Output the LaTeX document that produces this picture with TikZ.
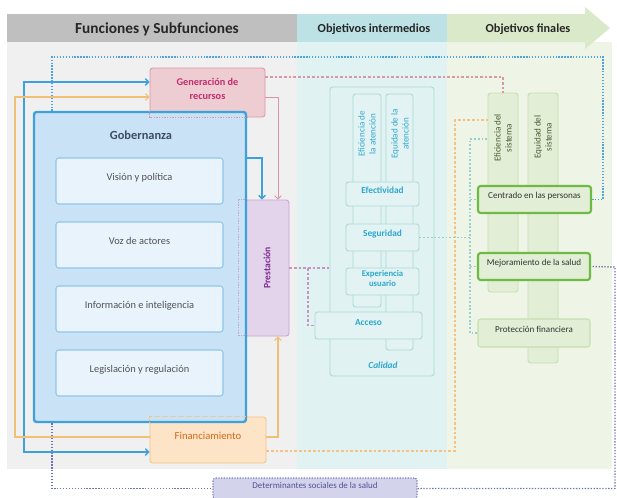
\documentclass[tikz,border=0pt]{standalone}
\usepackage{fontspec}
\setmainfont{Carlito}
\usetikzlibrary{fit,arrows.meta}
\definecolor{ghead}{HTML}{BFBFBF}
\definecolor{gbody}{HTML}{F0F0F0}
\definecolor{thead}{HTML}{BCE2E5}
\definecolor{tbody}{HTML}{E1F2F2}
\definecolor{vhead}{HTML}{DAE9C9}
\definecolor{vbody}{HTML}{EEF5E6}
\definecolor{govline}{HTML}{3DA2DC}
\definecolor{govfill}{HTML}{C9E2F5}
\definecolor{govtext}{HTML}{3F4A66}
\definecolor{subfill}{HTML}{E9F3FC}
\definecolor{subline}{HTML}{8FC6EC}
\definecolor{pinkfill}{HTML}{EDCCD2}
\definecolor{pinkline}{HTML}{D996A7}
\definecolor{pinktext}{HTML}{C42D6C}
\definecolor{orfill}{HTML}{FDE4C6}
\definecolor{orline}{HTML}{F5C283}
\definecolor{orlight}{HTML}{F2BF76}
\definecolor{ortext}{HTML}{D8681A}
\definecolor{purfill}{HTML}{E4D4EB}
\definecolor{purline}{HTML}{C7A4D1}
\definecolor{purtext}{HTML}{7B2A92}
\definecolor{tealline}{HTML}{A7DAD8}
\definecolor{tealtext}{HTML}{2EA7CF}
\definecolor{tealfill}{HTML}{E3F3F3}
\definecolor{grfill}{HTML}{E2EED6}
\definecolor{grline}{HTML}{C6DFAF}
\definecolor{grstrong}{HTML}{6DBA45}
\definecolor{grtext}{HTML}{4B5A33}
\definecolor{lavfill}{HTML}{D3D3EC}
\definecolor{lavline}{HTML}{7C80BE}
\definecolor{lavtext}{HTML}{4E5296}
\definecolor{bluedotc}{HTML}{4FA3DC}
\definecolor{botdotc}{HTML}{6B74AE}
\begin{document}
\begin{tikzpicture}[x=0.75pt,y=-0.75pt,
  >={Straight Barb[length=2.5pt,width=5pt]},
  bx/.style={rounded corners=2pt, inner sep=0pt, line width=0.6pt},
  hdr/.style={font={\fontsize{11.5pt}{13pt}\selectfont\bfseries}, text=black!85},
  hdrs/.style={font={\fontsize{9.2pt}{11pt}\selectfont\bfseries}, text=black!85},
  genbox/.style={bx, fill=pinkfill, draw=pinkline, text=pinktext, align=center,
     font={\fontsize{7.7pt}{10.3pt}\selectfont\bfseries}},
  finbox/.style={bx, fill=orfill, draw=orline, text=ortext,
     font={\fontsize{8pt}{9pt}\selectfont}},
  prebox/.style={bx, fill=purfill, draw=purline},
  gobbox/.style={rounded corners=2pt, inner sep=0pt, fill=govfill, draw=govline, line width=1.8pt},
  subbox/.style={bx, fill=subfill, draw=subline, line width=0.8pt, text=black!68,
     font={\fontsize{7.8pt}{9pt}\selectfont}},
  calbox/.style={bx, draw=tealline, line width=0.7pt},
  tcol/.style={bx, draw=tealline, fill=tealfill, line width=0.7pt},
  tbox/.style={bx, draw=tealline, fill=tealfill, line width=0.7pt, text=tealtext, align=center,
     font={\fontsize{7pt}{8.5pt}\selectfont\bfseries}},
  coltext/.style={rotate=90, align=center, font={\fontsize{6.8pt}{8.2pt}\selectfont}},
  gcol/.style={bx, draw=grline, fill=grfill, line width=0.7pt},
  gstrong/.style={bx, draw=grstrong, fill=grfill, line width=1.6pt, text=black!80,
     font={\fontsize{6.8pt}{8pt}\selectfont}},
  gweak/.style={bx, draw=grline, fill=grfill, line width=0.8pt, text=black!80,
     font={\fontsize{6.8pt}{8pt}\selectfont}},
  detbox/.style={bx, draw=lavline, fill=lavfill, line width=0.8pt, dash pattern=on 1pt off 1pt,
     text=lavtext, font={\fontsize{6.7pt}{8pt}\selectfont}},
  bluedot/.style={draw=bluedotc, line width=1pt, dash pattern=on 1pt off 1.2pt},
  botdot/.style={draw=botdotc, line width=1pt, dash pattern=on 1pt off 1.2pt},
  pinkdash/.style={draw=pinkline, line width=0.9pt, dash pattern=on 2pt off 1.5pt},
  pinksolid/.style={draw=pinkline, line width=0.6pt},
  blueline/.style={draw=govline, line width=1pt},
  orsolid/.style={draw=orlight, line width=0.8pt},
  ordash/.style={draw=orline, line width=0.9pt, dash pattern=on 2pt off 1.5pt},
  tealdot/.style={draw=tealline!90!teal, line width=1pt, dash pattern=on 1.4pt off 1.4pt},
  purdash/.style={draw=purline!90!purple, line width=0.8pt, dash pattern=on 2pt off 1.5pt},
  hidden/.style={line width=0.7pt, dash pattern=on 1pt off 1pt}
]
\useasboundingbox (0,0) rectangle (617,497);

% background regions
\fill[gbody] (7,42) rectangle (297,469);
\fill[tbody] (297,42) rectangle (447,469);
\fill[vbody] (447,42) rectangle (612,469);
\fill[ghead] (7,14) rectangle (297,42);
\fill[thead] (297,14) rectangle (447,42);
\fill[vhead] (447,14) -- (585,14) -- (585,7) -- (610,28) -- (585,49) -- (585,42) -- (447,42) -- cycle;
\node[hdr] (h1) at (157,29) {Funciones y Subfunciones};
\node[hdrs] (h2) at (374,29) {Objetivos intermedios};
\node[hdrs] (h3) at (528,29) {Objetivos finales};

% free points of connectors
\coordinate (b1) at (52,57);
\coordinate (b2) at (603,57);
\coordinate (b3) at (615,267);
\coordinate (p1) at (502,77);
\coordinate (p2) at (278,97);
\coordinate (q1) at (262,158);
\coordinate (r1) at (24,82);
\coordinate (r2) at (24,452);
\coordinate (o1) at (15,97);
\coordinate (o2) at (15,437);
\coordinate (o3) at (455,451);
\coordinate (o4) at (455,120);
\coordinate (t1) at (470,139);
\coordinate (u1) at (308,268);

% functions
\node[genbox, fit={(150,68) (265,117)}] (gen) {Generación de\\recursos};
\node[finbox, fit={(150,417) (266,463)}] (fin) {Financiamiento};
\node[prebox, fit={(245,200) (289,336)},
  label={[rotate=90, text=purtext, font={\fontsize{7.2pt}{8pt}\selectfont\bfseries}]center:Prestación}] (pre) {};
\node[gobbox, fit={(34,112) (246,422)}] (gob) {};
\node[text=govtext, font={\fontsize{9.3pt}{10pt}\selectfont\bfseries}] (gobt) at (141,135) {Gobernanza};
\node[subbox, fit={(56,158) (223,204)}] (vis) {Visión y política};
\node[subbox, fit={(56,222) (223,268)}] (voz) {Voz de actores};
\node[subbox, fit={(56,286) (223,332)}] (inf) {Información e inteligencia};
\node[subbox, fit={(56,350) (223,396)}] (leg) {Legislación y regulación};

% hidden parts under Gobernanza
\draw[hidden, draw=pinkline] (gen.west |- gob.north) -- (gen.south west) -- (gen.south -| gob.east);
\draw[hidden, draw=orline] (fin.west |- gob.south) -- (fin.north west) -- (fin.north -| gob.east);
\draw[hidden, draw=purline] (pre.north west) -- ++(-6,0) -- ++(0,136) -- ++(6,0);

% intermediate objectives
\node[calbox, fit={(330,87) (434,376)}] (cal) {};
\node[text=tealtext, font={\fontsize{7pt}{8pt}\selectfont\bfseries\itshape}] (calt) at (383,365) {Calidad};
\node[tcol, fit={(353,94) (381,307)}] (efa) {};
\node[tcol, fit={(386,94) (413,350)}] (eqa) {};
\node[coltext, text=tealtext] (efat) at (367,134) {Eficiencia de\\la atención};
\node[coltext, text=tealtext] (eqat) at (400,134) {Equidad de la\\atención};
\node[tbox, fit={(346,182) (419,206)}] (efe) {Efectividad};
\node[tbox, fit={(346,224) (419,251)}] (seg) {Seguridad};
\node[tbox, fit={(346,268) (419,295)}, font={\fontsize{6.5pt}{8pt}\selectfont\bfseries}] (exp) {Experiencia\\usuario};
\node[tbox, fit={(315,312) (422,339)}] (acc) {Acceso};

% final objectives
\node[gcol, fit={(488,93) (518,292)}] (efs) {};
\node[gcol, fit={(528,93) (558,363)}] (eqs) {};
\node[coltext, text=grtext] (efst) at (503,138) {Eficiencia del\\sistema};
\node[coltext, text=grtext] (eqst) at (543,137) {Equidad del\\sistema};
\node[gstrong, fit={(478,186) (591,213)}] (cen) {Centrado en las personas};
\node[gstrong, fit={(478,253) (590,280)}] (mej) {Mejoramiento de la salud};
\node[gweak, fit={(478,319) (590,347)}] (pro) {Protección financiera};

% social determinants
\node[detbox, fit={(213,478) (417,499)}] (det) {Determinantes sociales de la salud};

% connectors
\draw[bluedot] (gob.north -| b1) -- (b1) -- (b2) |- (cen.east);
\draw[botdot] (gob.south -| b1) |- (det.west);
\draw[botdot] (det.east) -| (b3) -- (mej.east);
\draw[pinkdash] (gen.east |- p1) -| (efs.north);
\draw[pinksolid, ->] (gen.east |- p2) -| (pre.north -| p2);
\draw[blueline, ->] (gob.east |- q1) -| (pre.north -| q1);
\draw[blueline, <->] (gen.west |- r1) -- (r1) -- (r2) -- (fin.west |- r2);
\draw[orsolid, <-] (gen.west |- o1) -- (o1) -- (o2) -- (fin.west |- o2);
\draw[orsolid, ->] (fin.east |- o2) -| (pre.south -| p2);
\draw[ordash] (fin.east |- o3) -| (o4) -- (efs.west |- o4);
\draw[tealdot] (seg.east) -| (t1) -- (efs.west |- t1);
\draw[tealdot] (seg.east -| t1) |- (pro.west);
\draw[tealdot] (cen.west -| t1) -- (cen.west);
\draw[tealdot] (mej.west -| t1) -- (mej.west);
\draw[purdash] (pre.east) -- (cal.west |- pre.east);
\draw[purdash] (pre.east -| u1) |- (acc.west);
\end{tikzpicture}
\end{document}
